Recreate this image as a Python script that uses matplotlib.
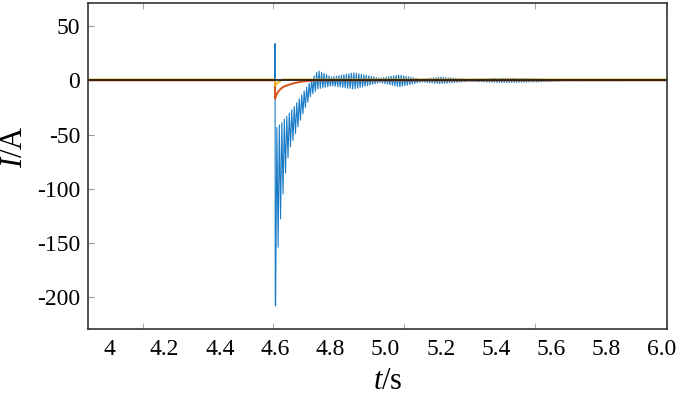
import numpy as np
import matplotlib
matplotlib.use("Agg")
import matplotlib.pyplot as plt

plt.rcParams['font.family'] = ['Liberation Serif', 'DejaVu Serif']
plt.rcParams['mathtext.fontset'] = 'custom'
plt.rcParams['mathtext.rm'] = 'Liberation Serif'
plt.rcParams['mathtext.it'] = 'Liberation Serif:italic'
plt.rcParams['axes.unicode_minus'] = False

# blue current: fault spike, then oscillation between upper / lower envelope
spike_t = [3.924, 4.5995, 4.6000, 4.6008]
spike_v = [0, 0, 34, -208]

env_t = [4.602, 4.611, 4.622, 4.633, 4.643, 4.655, 4.670, 4.690, 4.710, 4.730,
         4.755, 4.805, 4.885, 4.980, 5.050, 5.130, 5.200, 5.300, 5.420, 5.550,
         5.650, 6.020]
env_upper = [-45, -42, -40, -36, -33, -29, -24, -16, -8, 0,
             9, 3, 7, 2, 5, 1, 3, 1, 2, 1.5,
             0.3, 0.2]
env_lower = [-208, -154, -122, -95, -76, -62, -52, -38, -25, -14,
             -8, -5, -8, -2, -6, -1.5, -3, -1, -2, -1.5,
             -0.3, -0.2]
osc_period = 0.009

# orange and yellow currents
orange_t = [3.924, 4.5995, 4.6005, 4.602, 4.610, 4.620, 4.630, 4.650, 4.670, 4.700, 4.750, 6.020]
orange_v = [0, 0, -17, -15, -11, -8, -6, -4, -2.5, -1, 0, 0]
yellow_t = [3.924, 4.5995, 4.601, 4.610, 4.620, 4.630, 6.020]
yellow_v = [0.8, 0.8, -5, -2, -0.5, 0.8, 0.8]
black_t = [3.924, 6.020]
black_v = [0, 0]

xtick_vals = [4.0, 4.2, 4.4, 4.6, 4.8, 5.0, 5.2, 5.4, 5.6, 5.8, 6.0]
xtick_labels = ['4', '4.2', '4.4', '4.6', '4.8', '5.0', '5.2', '5.4', '5.6', '5.8', '6.0']
xmark_vals = [4.122, 4.593, 5.067, 5.542, 6.016]
ytick_vals = [50, 0, -50, -100, -150, -200]

# zigzag between the envelopes
half = np.arange(env_t[0], env_t[-1], osc_period / 2)
up = np.interp(half, env_t, env_upper)
lo = np.interp(half, env_t, env_lower)
zig = np.where(np.arange(len(half)) % 2 == 0, lo, up)
blue_t = np.concatenate([spike_t, half])
blue_v = np.concatenate([spike_v, zig])

fig = plt.figure(figsize=(6.85, 3.97), dpi=100)
ax = fig.add_axes([0.129, 0.171, 0.845, 0.821])

ax.plot(blue_t, blue_v, color='#1a7cc7', lw=0.8)
ax.plot(orange_t, orange_v, color='#D95319', lw=1.4)
ax.plot(yellow_t, yellow_v, color='#EDB120', lw=1.4)
ax.plot(black_t, black_v, color='#111111', lw=1.2)

ax.set_xlim(3.924, 6.020)
ax.set_ylim(-229.5, 71.2)

ax.set_xticks(xtick_vals)
ax.set_xticklabels(xtick_labels)
ax.set_xticks(xmark_vals, minor=True)
ax.set_yticks(ytick_vals)
ax.set_yticklabels([str(v) for v in ytick_vals])

ax.tick_params(axis='x', which='major', length=0, pad=7, labelsize=17)
ax.tick_params(axis='x', which='minor', direction='in', length=4, color='#999999',
               top=True, bottom=True)
ax.tick_params(axis='y', direction='in', length=4, color='#999999', pad=6, labelsize=17)

for s in ax.spines.values():
    s.set_linewidth(1.2)
    s.set_color('#333333')

ax.set_xlabel(r'$t$/s', fontsize=22)
ax.set_ylabel(r'$I$/A', fontsize=22)
ax.xaxis.set_label_coords(0.518, -0.115)
ax.yaxis.set_label_coords(-0.103, 0.558)

fig.savefig('out.png', dpi=100)
